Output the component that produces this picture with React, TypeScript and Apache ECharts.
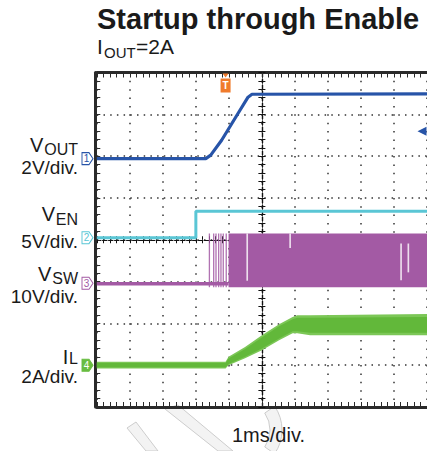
import React, { useEffect, useRef } from "react";
import * as echarts from "echarts";

// ---------------- data ----------------
const TIME_MIN_MS = 0;
const TIME_MAX_MS = 10; // 1 ms/div, 10 divisions
const Y_DIVS = 8;

// channel ground position (divisions from bottom) and units per division
const CH_GROUND_DIV = [5.94, 4.05, 2.96, 1.0];
const CH_PER_DIV = [2, 5, 10, 2];
const CH_COLORS = ["#2754a8", "#5ac6d5", "#a35aa4", "#68bd41"];
const CH_NAME_MAIN = ["V", "V", "V", "I"];
const CH_NAME_SUB = ["OUT", "EN", "SW", "L"];
const CH_SCALE_TEXT = ["2V/div.", "5V/div.", "10V/div.", "2A/div."];

// VOUT (V)
const VOUT_T = [0, 3.3, 3.45, 3.78, 4.28, 4.58, 4.7, 10];
const VOUT_V = [0, 0, 0.17, 0.88, 2.17, 2.94, 3.08, 3.1];
// VEN (V)
const VEN_T = [0, 3.0, 3.0, 10];
const VEN_V = [0, 0, 3.16, 3.16];
// VSW (V)
const VSW_IDLE_T = [0, 3.99];
const VSW_IDLE_V = [-0.15, -0.15];
const VSW_PULSE_T = [3.39, 3.52, 3.59, 3.67, 3.74, 3.81, 3.9];
const VSW_SWITCH_START = 3.99;
const VSW_SWITCH_END = 10;
const VSW_LOW = -0.95;
const VSW_HIGH = 11.9;
const VSW_DROPOUT_T = [4.53, 5.83, 9.19, 9.41];
const VSW_DROPOUT_LO = [0.6, 8.4, 0.7, 2.6];
const VSW_DROPOUT_HI = [11.9, 11.9, 9.5, 9.5];
// IL (A) ripple envelope (outer) and core
const IL_T = [0, 3.9, 3.99, 4.49, 5.0, 5.52, 5.93, 6.07, 6.46, 10];
const IL_HI = [0.17, 0.17, 0.4, 0.87, 1.43, 1.96, 2.31, 2.39, 2.39, 2.45];
const IL_LO = [-0.16, -0.16, 0.0, 0.33, 0.72, 1.19, 1.53, 1.53, 1.43, 1.43];
const IL_CORE_HI = [0.1, 0.1, 0.32, 0.78, 1.33, 1.86, 2.2, 2.27, 2.27, 2.3];
const IL_CORE_LO = [-0.1, -0.1, 0.06, 0.4, 0.8, 1.28, 1.62, 1.62, 1.55, 1.55];

const TRIGGER_T = 3.9;
const VOUT_LEVEL_MARK = 1.31;

// ---------------- layout / style ----------------
const FONT = "'Liberation Sans', Arial, Helvetica, sans-serif";
const FRAME_COLOR = "#2a2a2a";
const GRID_BOX = { left: 96.8, top: 72.5, right: -4.8, bottom: 44 };
const PULSE_W = 0.04;
const DROP_W = 0.05;

// channel label layout: right edge and baselines
const LABEL_RIGHT = 78;
const NAME_BASE = [151.5, 220.5, 280.5, 363.5];
const SUB_BASE = [155, 225, 284.5, 364.5];
const SCALE_BASE = [174, 248, 303.5, 383];
const MAIN_FS = 20;
const SUB_FS = 16;
const SCALE_FS = 19;

const zip = (a: number[], b: number[]) => a.map((v, i) => [v, b[i]]);
const textW = (s: string, fs: number) => {
  const w: Record<string, number> = { O: 0.778, U: 0.722, T: 0.611, E: 0.667, N: 0.722, S: 0.667, W: 0.944, L: 0.556 };
  return s.split("").reduce((acc, c) => acc + (w[c] || 0.6), 0) * fs;
};
const midY = (baseline: number, fs: number) => baseline - 0.35 * fs;

function txt(text: string, x: number, baseline: number, fs: number, align: string, weight = "normal") {
  return {
    type: "text",
    x,
    y: midY(baseline, fs),
    z: 10,
    silent: true,
    style: {
      text,
      fill: "#1a1a1a",
      fontSize: fs,
      fontFamily: FONT,
      fontWeight: weight,
      align,
      verticalAlign: "middle",
      textAlign: align,
      textVerticalAlign: "middle",
    },
  };
}

function buildOption() {
  const frameAxis = {
    axisLine: { show: true, onZero: false, lineStyle: { color: FRAME_COLOR, width: 3 } },
    axisTick: { show: true, inside: true, length: 5, lineStyle: { color: FRAME_COLOR, width: 1 } },
    minorTick: { show: true, splitNumber: 5, length: 5, lineStyle: { color: FRAME_COLOR, width: 1 } },
    axisLabel: { show: false },
  };
  const centerAxis = (inside: boolean) => ({
    axisLine: { show: true, onZero: true, lineStyle: { color: "#111", width: 1.2, type: [4, 2] } },
    axisTick: { show: true, inside, length: 3.5, lineStyle: { color: "#111", width: 1 } },
    minorTick: { show: true, splitNumber: 5, length: 3.5, lineStyle: { color: "#111", width: 1 } },
    axisLabel: { show: false },
    splitLine: { show: false },
  });

  const chAxes = CH_GROUND_DIV.map((g, i) => ({
    type: "value",
    gridIndex: 0,
    min: -g * CH_PER_DIV[i],
    max: (Y_DIVS - g) * CH_PER_DIV[i],
    show: false,
    axisLine: { onZero: false },
  }));

  const chMarker = (i: number) => ({
    coord: [0, 0],
    symbol: "path://M0 0H7L11 6L7 12H0Z",
    symbolSize: [11, 12],
    symbolOffset: [-9.3, 0],
    itemStyle: { color: i === 3 ? CH_COLORS[3] : "#fff", borderColor: CH_COLORS[i], borderWidth: 1 },
    label: {
      show: true,
      position: "inside",
      formatter: String(i + 1),
      color: i === 3 ? "#fff" : CH_COLORS[i],
      fontSize: 10,
      fontFamily: FONT,
      offset: [-1, 0],
    },
  });

  const vswRects = [
    ...VSW_PULSE_T.map((t) => [t, t + PULSE_W, VSW_LOW, VSW_HIGH, 0]),
    [VSW_SWITCH_START, VSW_SWITCH_END, VSW_LOW, VSW_HIGH, 1],
    ...VSW_DROPOUT_T.map((t, i) => [t, t + DROP_W, VSW_DROPOUT_LO[i], VSW_DROPOUT_HI[i], 2]),
  ];

  const labelGraphics: any[] = [];
  for (let i = 0; i < 4; i++) {
    const subW = textW(CH_NAME_SUB[i], SUB_FS);
    labelGraphics.push(txt(CH_NAME_SUB[i], LABEL_RIGHT, SUB_BASE[i], SUB_FS, "right"));
    labelGraphics.push(txt(CH_NAME_MAIN[i], LABEL_RIGHT - subW - 0.8, NAME_BASE[i], MAIN_FS, "right"));
    labelGraphics.push(txt(CH_SCALE_TEXT[i], LABEL_RIGHT, SCALE_BASE[i], SCALE_FS, "right"));
  }

  const wm = { fill: "#f3f3f3", stroke: "#cdcdcd", lineWidth: 1 };

  const bandPolygon = (hi: number[], lo: number[], fill: string) => (params: any, api: any) => {
    if (params.dataIndex !== 0) return null;
    const pts: number[][] = [];
    IL_T.forEach((t, i) => pts.push(api.coord([t, hi[i]])));
    for (let i = IL_T.length - 1; i >= 0; i--) pts.push(api.coord([IL_T[i], lo[i]]));
    return { type: "polygon", shape: { points: pts }, style: { fill } };
  };

  return {
    animation: false,
    backgroundColor: "#ffffff",
    grid: [
      { ...GRID_BOX, containLabel: false },
      { ...GRID_BOX, containLabel: false },
      { ...GRID_BOX, containLabel: false },
    ],
    xAxis: [
      {
        type: "value", gridIndex: 0, min: TIME_MIN_MS, max: TIME_MAX_MS, interval: 1, position: "bottom",
        ...frameAxis,
        splitLine: { show: true, lineStyle: { color: "#333", width: 1.5, type: [1.5, 6.86] } },
      },
      { type: "value", gridIndex: 0, min: TIME_MIN_MS, max: TIME_MAX_MS, interval: 1, position: "top", ...frameAxis, splitLine: { show: false } },
      { type: "value", gridIndex: 1, min: -5, max: 5, interval: 1, ...centerAxis(true) },
      { type: "value", gridIndex: 2, min: -5, max: 5, interval: 1, ...centerAxis(false) },
    ],
    yAxis: [
      {
        type: "value", gridIndex: 0, min: 0, max: Y_DIVS, interval: 1, position: "left", offset: 1.5,
        ...frameAxis,
        splitLine: { show: true, lineStyle: { color: "#333", width: 1.5, type: [1.5, 5.2] } },
      },
      ...chAxes,
      { type: "value", gridIndex: 1, min: -4, max: 4, interval: 1, ...centerAxis(true) },
      { type: "value", gridIndex: 2, min: -4, max: 4, interval: 1, ...centerAxis(false) },
    ],
    series: [
      {
        type: "custom",
        name: "VSW",
        xAxisIndex: 0,
        yAxisIndex: 3,
        silent: true,
        z: 3,
        encode: { x: [0, 1], y: [2, 3] },
        data: vswRects,
        renderItem: (params: any, api: any) => {
          const a = api.coord([api.value(0), api.value(3)]);
          const b = api.coord([api.value(1), api.value(2)]);
          const kind = api.value(4);
          return {
            type: "rect",
            shape: { x: a[0], y: a[1], width: Math.max(b[0] - a[0], 1), height: b[1] - a[1] },
            style: { fill: kind === 2 ? "rgba(255,255,255,0.8)" : kind === 0 ? "rgba(163,90,164,0.85)" : CH_COLORS[2] },
          };
        },
      },
      {
        type: "line",
        name: "VSW idle",
        xAxisIndex: 0,
        yAxisIndex: 3,
        silent: true,
        z: 3,
        showSymbol: false,
        data: zip(VSW_IDLE_T, VSW_IDLE_V),
        lineStyle: { color: CH_COLORS[2], width: 3.5 },
        markPoint: { silent: true, animation: false, data: [chMarker(2)] },
      },
      {
        type: "custom",
        name: "IL",
        xAxisIndex: 0,
        yAxisIndex: 4,
        silent: true,
        z: 3,
        encode: { x: 0, y: [1, 2] },
        data: IL_T.map((t, i) => [t, IL_LO[i], IL_HI[i]]),
        renderItem: bandPolygon(IL_HI, IL_LO, "#7cc757"),
        markPoint: { silent: true, animation: false, data: [chMarker(3)] },
      },
      {
        type: "custom",
        name: "IL core",
        xAxisIndex: 0,
        yAxisIndex: 4,
        silent: true,
        z: 3,
        encode: { x: 0, y: [1, 2] },
        data: IL_T.map((t, i) => [t, IL_CORE_LO[i], IL_CORE_HI[i]]),
        renderItem: bandPolygon(IL_CORE_HI, IL_CORE_LO, "#62b83a"),
      },
      {
        type: "line",
        name: "VEN",
        xAxisIndex: 0,
        yAxisIndex: 2,
        silent: true,
        z: 4,
        showSymbol: false,
        data: zip(VEN_T, VEN_V),
        lineStyle: { color: CH_COLORS[1], width: 3 },
        markPoint: {
          silent: true,
          animation: false,
          data: [
            chMarker(1),
            {
              coord: [TRIGGER_T, (Y_DIVS - CH_GROUND_DIV[1]) * CH_PER_DIV[1]],
              symbol: "path://M2 0H8L5 4ZM0 5H10V19H0Z",
              symbolSize: [10, 19],
              symbolOffset: [0, 10.5],
              itemStyle: { color: "#f07b2c" },
              label: { show: true, position: "inside", formatter: "T", color: "#fff", fontSize: 10, fontWeight: "bold", fontFamily: FONT, offset: [0, 2.5] },
            },
          ],
        },
      },
      {
        type: "line",
        name: "VOUT",
        xAxisIndex: 0,
        yAxisIndex: 1,
        silent: true,
        z: 5,
        showSymbol: false,
        data: zip(VOUT_T, VOUT_V),
        lineStyle: { color: CH_COLORS[0], width: 3.2 },
        markPoint: {
          silent: true,
          animation: false,
          data: [
            chMarker(0),
            {
              coord: [TIME_MAX_MS, VOUT_LEVEL_MARK],
              symbol: "triangle",
              symbolSize: [9, 9],
              symbolRotate: 90,
              symbolOffset: [-5, 0],
              itemStyle: { color: CH_COLORS[0] },
              label: { show: false },
            },
          ],
        },
      },
    ],
    graphic: [
      { type: "polygon", z: -10, silent: true, shape: { points: [[127, 428], [136, 422], [158, 451], [146, 451]] }, style: wm },
      { type: "polygon", z: -10, silent: true, shape: { points: [[165, 409], [178, 405], [233, 451], [218, 451]] }, style: wm },
      { type: "sector", z: -10, silent: true, shape: { cx: 240, cy: 430, r0: 30, r: 42, startAngle: -0.6, endAngle: 0.6 }, style: wm },
      txt("Startup through Enable", 97, 29, 29, "left", "bold"),
      txt("I", 97, 54, 21, "left"),
      txt("OUT", 104, 58, 15, "left"),
      txt("=2A", 136, 54, 21, "left"),
      ...labelGraphics,
      txt("1ms/div.", 232, 441.5, 20, "left"),
    ],
  };
}

export default function App() {
  const ref = useRef<HTMLDivElement>(null);
  useEffect(() => {
    if (!ref.current) return;
    const chart = echarts.init(ref.current, null, { renderer: "svg" });
    chart.setOption(buildOption() as any);
    return () => chart.dispose();
  }, []);
  return (
    <div
      ref={ref}
      style={{ position: "fixed", left: 0, top: 0, width: 427, height: 451, background: "#fff", overflow: "hidden" }}
    />
  );
}
